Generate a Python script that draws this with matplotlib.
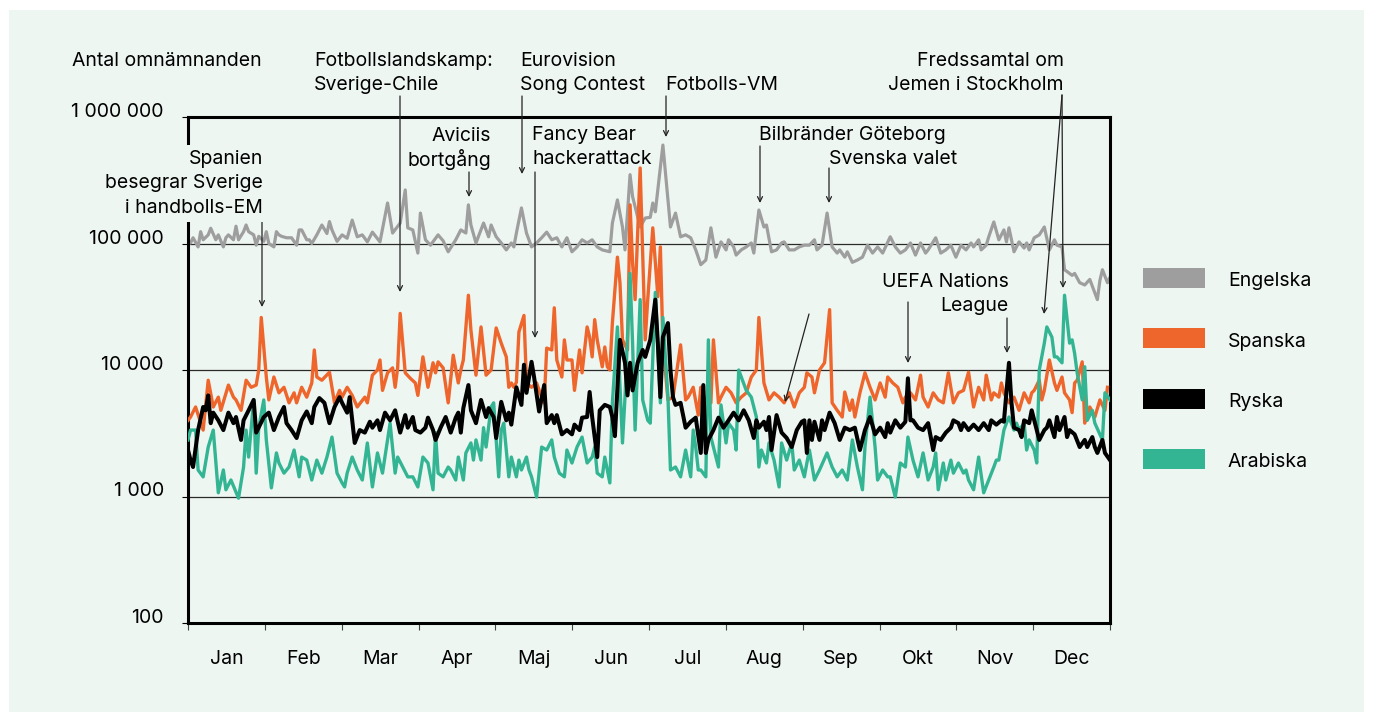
import matplotlib
matplotlib.use("Agg")
import matplotlib.pyplot as plt
from matplotlib.patches import Rectangle
from matplotlib.ticker import NullLocator

plt.rcParams['font.family'] = ['Inter', 'DejaVu Sans']

W, H = 1373, 722
BG = '#eef6f2'
FS = 14.0

months = ['Jan', 'Feb', 'Mar', 'Apr', 'Maj', 'Jun', 'Jul', 'Aug', 'Sep', 'Okt', 'Nov', 'Dec']
series_names = ['Engelska', 'Spanska', 'Ryska', 'Arabiska']
series_colors = ['#9e9e9e', '#ee662b', '#000000', '#33b593']
ytick_values = [100, 1000, 10000, 100000, 1000000]
ytick_labels = ['100', '1 000', '10 000', '100 000', '1 000 000']
y_axis_title = 'Antal omnämnanden'

# (day of year, number of mentions)
engelska = [(0, 100000), (1, 101000), (2, 111000), (4, 94000), (5, 124000), (6, 107000), (8, 117000), (9, 132000),
            (11, 107000), (12, 117000), (14, 94000), (15, 111000), (16, 117000), (18, 107000), (19, 137000), (20, 107000),
            (22, 124000), (23, 140000), (24, 124000), (26, 117000), (27, 97000), (28, 114000), (30, 104000), (31, 124000),
            (32, 100000), (34, 94000), (35, 124000), (36, 117000), (37, 114000), (39, 111000), (41, 111000), (43, 97000),
            (44, 128000), (45, 128000), (47, 107000), (48, 107000), (49, 100000), (51, 117000), (53, 140000), (55, 120000),
            (56, 149000), (57, 128000), (59, 104000), (61, 117000), (63, 110000), (65, 153000), (67, 113000), (69, 117000),
            (71, 103000), (73, 123000), (76, 103000), (79, 209000), (81, 121000), (84, 145000), (86, 265000), (87, 133000),
            (89, 128000), (91, 84000), (92, 174000), (94, 107000), (96, 97000), (99, 117000), (101, 105000), (103, 86000),
            (106, 107000), (108, 128000), (110, 121000), (111, 202000), (112, 140000), (114, 101000), (117, 145000),
            (119, 113000), (120, 140000), (122, 113000), (124, 101000), (126, 89000), (128, 101000), (129, 94000),
            (130, 121000), (132, 191000), (134, 121000), (136, 94000), (138, 101000), (140, 111000), (142, 123000),
            (144, 107000), (146, 111000), (148, 94000), (150, 111000), (152, 86000), (154, 94000), (156, 107000),
            (158, 101000), (160, 107000), (162, 94000), (164, 89000), (167, 86000), (168, 145000), (170, 221000),
            (172, 135000), (173, 89000), (175, 350000), (176, 235000), (179, 135000), (181, 159000), (183, 161000),
            (184, 209000), (185, 178000), (188, 600000), (191, 135000), (193, 174000), (195, 113000), (197, 117000),
            (199, 111000), (201, 89000), (203, 68000), (205, 74000), (207, 133000), (209, 78000), (211, 103000),
            (213, 89000), (214, 107000), (216, 94000), (217, 81000), (219, 89000), (221, 94000), (223, 101000),
            (224, 84000), (226, 184000), (228, 135000), (229, 140000), (231, 86000), (233, 89000), (235, 101000),
            (236, 103000), (238, 89000), (240, 89000), (242, 94000), (244, 97000), (246, 97000), (248, 107000),
            (249, 89000), (251, 97000), (253, 174000), (255, 94000), (257, 84000), (258, 89000), (260, 78000),
            (261, 86000), (263, 71000), (265, 74000), (267, 78000), (269, 97000), (271, 84000), (273, 94000),
            (275, 84000), (278, 113000), (280, 94000), (282, 84000), (284, 89000), (286, 101000), (288, 81000),
            (290, 101000), (292, 84000), (293, 89000), (296, 111000), (298, 84000), (300, 89000), (302, 97000),
            (304, 78000), (306, 97000), (308, 89000), (310, 101000), (311, 94000), (313, 107000), (314, 89000),
            (316, 97000), (317, 113000), (319, 148000), (321, 107000), (323, 128000), (324, 103000), (325, 133000),
            (327, 86000), (329, 103000), (331, 92000), (332, 101000), (333, 89000), (335, 111000), (337, 117000),
            (339, 135000), (341, 89000), (343, 107000), (344, 97000), (346, 94000), (347, 62000), (348, 60000),
            (350, 56000), (351, 58000), (353, 49000), (355, 47000), (357, 52000), (360, 36000), (361, 51000),
            (362, 62000), (364, 49000), (365, 54000)]

spanska = [(0, 4000), (1, 4250), (3, 5100), (6, 3350), (8, 8300), (10, 5100), (12, 6100), (13, 4800), (16, 7600),
           (18, 6100), (19, 5800), (21, 4800), (23, 8300), (25, 7300), (27, 7600), (28, 10000), (29, 26000), (31, 8800),
           (32, 5800), (34, 8800), (36, 6600), (38, 7300), (40, 5500), (42, 6600), (43, 5500), (45, 7300), (47, 6100),
           (49, 7900), (50, 14400), (51, 8800), (53, 8300), (56, 9600), (58, 5500), (60, 6900), (61, 6100), (63, 7300),
           (65, 6300), (67, 5100), (70, 6100), (71, 5500), (73, 9100), (75, 10000), (76, 12000), (77, 6900), (79, 9500),
           (81, 10400), (82, 7300), (83, 10400), (84, 28000), (86, 9500), (88, 8600), (90, 7900), (91, 6300), (93, 12700),
           (95, 7300), (97, 11400), (98, 9500), (99, 11600), (101, 10400), (103, 5500), (105, 13100), (107, 7900),
           (108, 10000), (109, 12000), (111, 39000), (112, 20700), (114, 9100), (116, 21900), (118, 9100), (120, 10000),
           (122, 21500), (124, 16300), (126, 12700), (127, 7300), (128, 7900), (129, 7300), (130, 8000), (131, 20000),
           (133, 27000), (134, 7900), (136, 7300), (138, 7900), (140, 6100), (141, 5500), (142, 14900), (144, 14400),
           (145, 31000), (146, 12000), (148, 8800), (149, 17300), (150, 12000), (152, 12000), (153, 6900), (155, 14400),
           (156, 9500), (158, 21900), (159, 18200), (160, 12700), (161, 25000), (162, 17300), (164, 10600), (165, 15200),
           (166, 10600), (167, 10000), (168, 23500), (170, 78000), (171, 49000), (172, 17300), (174, 14400),
           (175, 202000), (176, 70000), (177, 36000), (179, 395000), (181, 17300), (182, 36000), (184, 133000),
           (186, 38000), (187, 94000), (188, 16300), (190, 5800), (192, 6100), (195, 15800), (197, 5800), (198, 6100),
           (200, 7300), (202, 4400), (203, 7300), (205, 5500), (207, 5500), (208, 17300), (210, 5500), (211, 6100),
           (213, 7300), (215, 6600), (217, 5500), (219, 6100), (221, 6600), (223, 8800), (225, 10000), (226, 26000),
           (228, 7900), (230, 5800), (232, 6600), (234, 6100), (236, 5500), (238, 6600), (240, 5100), (242, 6600),
           (244, 7300), (245, 9500), (247, 8800), (248, 6600), (250, 10000), (252, 11400), (254, 30000), (255, 5500),
           (257, 4800), (259, 4250), (260, 6700), (262, 4800), (263, 5800), (264, 4250), (266, 6600), (268, 9500),
           (270, 7300), (272, 5800), (274, 7900), (276, 6100), (277, 8800), (279, 7900), (281, 7300), (283, 5500),
           (284, 6100), (286, 6600), (288, 5800), (290, 9100), (291, 6100), (293, 5100), (295, 6600), (297, 5800),
           (299, 5500), (301, 9500), (303, 5500), (305, 6600), (307, 6900), (309, 9600), (311, 5100), (313, 7300),
           (315, 5800), (316, 9100), (318, 5800), (319, 6600), (321, 6100), (322, 7900), (323, 6600), (325, 5500),
           (327, 6100), (329, 4800), (331, 6600), (333, 5500), (334, 6600), (335, 6900), (337, 8300), (338, 5800),
           (339, 6900), (341, 12000), (343, 7900), (344, 6900), (346, 8800), (347, 6600), (349, 5800), (350, 4600),
           (351, 7900), (352, 8300), (354, 11600), (355, 3800), (357, 5100), (359, 4250), (361, 5800), (363, 4800),
           (364, 7300)]

ryska = [(0, 2330), (1, 1940), (2, 1710), (4, 3350), (6, 5100), (7, 4800), (8, 6300), (9, 3800), (10, 4600), (12, 4000),
         (14, 3350), (16, 4600), (18, 3800), (19, 4250), (21, 2800), (22, 4000), (24, 4800), (26, 5800), (27, 3200),
         (30, 4250), (32, 4600), (34, 3350), (36, 4250), (38, 5100), (39, 3800), (41, 3350), (43, 2900), (45, 4000),
         (47, 4700), (49, 3800), (50, 5100), (52, 6000), (54, 5500), (56, 3800), (58, 5100), (60, 6100), (61, 5500),
         (63, 4600), (64, 6100), (66, 2650), (68, 3350), (70, 3200), (72, 3900), (73, 3500), (75, 4000), (76, 3350),
         (78, 4600), (80, 4000), (82, 4800), (84, 3200), (86, 4400), (87, 3500), (89, 4250), (90, 3350), (92, 3200),
         (94, 3500), (95, 4200), (97, 3350), (98, 2800), (100, 3500), (102, 4250), (104, 3200), (106, 4200), (107, 4600),
         (108, 3200), (109, 5000), (111, 7600), (112, 4800), (114, 3800), (116, 5800), (118, 4250), (119, 5000),
         (121, 4250), (122, 2900), (124, 5600), (126, 4000), (127, 4600), (128, 3700), (130, 7300), (132, 5300),
         (133, 11000), (134, 6600), (136, 11600), (137, 8800), (139, 4700), (141, 7600), (142, 3800), (144, 4400),
         (145, 3800), (146, 4400), (148, 3100), (150, 3350), (152, 3100), (153, 3700), (155, 3350), (156, 4200),
         (158, 4250), (159, 6700), (160, 4250), (162, 2050), (163, 4800), (165, 5300), (167, 5100), (168, 4250),
         (169, 3000), (171, 17300), (173, 11400), (174, 6300), (175, 11400), (176, 6900), (178, 11400), (180, 14400),
         (181, 12700), (183, 17300), (185, 36000), (186, 16300), (187, 6100), (188, 18200), (190, 23500), (191, 10000),
         (192, 6100), (193, 5300), (195, 5500), (197, 3500), (199, 3900), (201, 4200), (203, 2210), (204, 7600),
         (205, 2210), (206, 2800), (208, 3350), (210, 4200), (212, 3500), (214, 4000), (216, 4600), (218, 4000),
         (220, 4800), (222, 4000), (224, 2900), (225, 4000), (226, 3500), (228, 3900), (229, 3350), (230, 4250),
         (231, 2330), (233, 4400), (235, 3200), (237, 2900), (239, 2460), (241, 3350), (243, 3900), (244, 4000),
         (245, 2210), (246, 4000), (247, 2800), (248, 3900), (250, 2800), (251, 4000), (252, 3350), (254, 4600),
         (256, 3800), (258, 2800), (260, 3500), (262, 3350), (264, 3500), (266, 2330), (268, 3350), (270, 4250),
         (272, 3100), (274, 3500), (276, 2950), (277, 3800), (278, 3200), (280, 4000), (282, 3500), (284, 3900),
         (285, 8600), (286, 4000), (287, 4000), (289, 3500), (291, 3350), (293, 3800), (295, 2330), (296, 2950),
         (298, 2800), (300, 3200), (302, 3500), (303, 4000), (305, 3800), (306, 3350), (307, 3800), (309, 3350),
         (311, 3700), (313, 3350), (315, 3800), (317, 3350), (318, 4000), (320, 3700), (322, 4000), (323, 3900),
         (325, 11400), (326, 5500), (327, 3500), (329, 3350), (330, 2950), (331, 4000), (333, 3800), (334, 4800),
         (335, 4000), (336, 3350), (337, 2800), (339, 3350), (340, 3500), (341, 4000), (343, 2950), (344, 4250),
         (345, 3350), (347, 4250), (348, 2950), (349, 3350), (351, 3100), (353, 2460), (355, 2800), (356, 2460),
         (358, 2950), (359, 2460), (360, 2210), (362, 2800), (363, 2210), (365, 1940)]

arabiska = [(0, 2800), (1, 3350), (3, 3350), (4, 1620), (6, 1430), (8, 2460), (10, 3350), (12, 1070), (14, 1620),
            (15, 1130), (17, 1350), (20, 970), (22, 1710), (23, 3350), (24, 2050), (26, 5800), (27, 1530), (28, 3500),
            (30, 5800), (31, 2800), (33, 1170), (35, 2210), (36, 1840), (38, 1530), (40, 1710), (42, 2330), (44, 1430),
            (45, 2050), (47, 1940), (49, 1350), (51, 1940), (53, 1530), (55, 2050), (57, 2950), (59, 1530), (61, 1280),
            (62, 1190), (63, 1530), (65, 2050), (67, 1620), (69, 1350), (71, 2650), (73, 1190), (75, 2210), (77, 1530),
            (80, 3800), (82, 1530), (83, 2050), (85, 1710), (87, 1430), (89, 1430), (91, 1190), (93, 2050), (95, 1840),
            (97, 1130), (98, 3200), (99, 1530), (101, 1430), (103, 1710), (104, 1620), (106, 1350), (107, 2050),
            (109, 1350), (110, 2210), (112, 2650), (113, 1940), (114, 2800), (116, 1940), (117, 3500), (118, 2460),
            (120, 5100), (121, 5500), (123, 1430), (124, 3350), (125, 3800), (127, 1430), (128, 2050), (130, 1430),
            (131, 1940), (132, 1620), (134, 2050), (135, 1620), (136, 1430), (138, 990), (140, 2460), (142, 2330),
            (144, 2800), (145, 2050), (147, 1530), (149, 1430), (150, 2330), (152, 1840), (154, 2460), (156, 2950),
            (158, 1840), (160, 2050), (161, 2460), (162, 1530), (164, 1430), (165, 2050), (167, 1280), (168, 5500),
            (169, 11000), (170, 21900), (172, 2650), (173, 6100), (175, 58000), (176, 16300), (177, 3350), (179, 36000),
            (180, 5800), (182, 4000), (183, 3800), (185, 41000), (187, 5500), (188, 26000), (190, 6100), (191, 1620),
            (193, 1710), (195, 1430), (197, 2330), (199, 1430), (200, 3350), (201, 2460), (202, 1620), (203, 1620),
            (205, 1430), (206, 17300), (207, 2950), (209, 2050), (210, 1710), (211, 5300), (213, 2650), (214, 3800),
            (216, 3350), (217, 2330), (218, 10000), (221, 6900), (223, 6100), (225, 4250), (226, 1710), (227, 2330),
            (229, 1840), (230, 2650), (232, 1940), (234, 1190), (235, 2650), (237, 1940), (239, 2650), (240, 1620),
            (242, 1940), (244, 1430), (245, 1840), (246, 2330), (248, 1350), (250, 1620), (253, 2210), (255, 1710),
            (257, 1430), (259, 1620), (261, 1350), (263, 2800), (265, 1710), (267, 1130), (268, 2460), (270, 6100),
            (272, 2460), (273, 1350), (275, 1620), (277, 1430), (278, 1430), (280, 990), (282, 1840), (284, 1710),
            (285, 2950), (287, 1940), (289, 1430), (291, 2210), (293, 1350), (295, 1710), (296, 2210), (297, 1130),
            (299, 1840), (300, 1350), (302, 1940), (303, 1530), (305, 1840), (307, 1530), (308, 1620), (309, 1350),
            (311, 1130), (313, 2050), (315, 1070), (317, 1350), (319, 1710), (320, 1940), (321, 1940), (323, 3350),
            (324, 3800), (325, 4250), (327, 3350), (328, 3800), (329, 3350), (331, 3800), (332, 2330), (333, 2800),
            (335, 2330), (336, 1840), (337, 10000), (339, 16300), (340, 21900), (342, 18200), (343, 12700),
            (344, 12700), (346, 11400), (347, 39000), (349, 16300), (350, 17300), (351, 13500), (352, 9500),
            (354, 5800), (355, 10600), (356, 4000), (358, 4800), (359, 3800), (362, 2800), (363, 6600), (365, 5800)]

series_data = [engelska, spanska, ryska, arabiska]
series_lw = [2.3, 2.4, 2.9, 2.4]
series_z = [2, 3, 5, 4]

# annotations: text lines (x, baseline y in px from top-left, ha) and arrows (start -> end, px)
annotations = [
    (['Fotbollslandskamp:', 'Sverige-Chile'], 314, 66, 'left'),
    (['Eurovision', 'Song Contest'], 520, 66, 'left'),
    (['Fotbolls-VM'], 665, 90, 'left'),
    (['Fredssamtal om', 'Jemen i Stockholm'], 1064, 66, 'right'),
    (['Aviciis', 'bortgång'], 491, 141, 'right'),
    (['Fancy Bear', 'hackerattack'], 532, 140, 'left'),
    (['Bilbränder Göteborg'], 759, 140, 'left'),
    (['Svenska valet'], 829, 164, 'left'),
    (['UEFA Nations', 'League'], 1009, 287, 'right'),
]
spain_label = (['Spanien', 'besegrar Sverige', 'i handbolls-EM'], 263, 164, 'right')
arrows = [((262, 217), (262, 307)), ((400, 96), (400, 292)), ((469, 172), (469, 197)),
          ((522, 96), (522, 174)), ((535, 172), (535, 338)), ((666, 96), (666, 137)),
          ((760, 146), (760, 203)), ((829, 168), (829, 203)), ((908, 302), (908, 363)),
          ((1007, 318), (1007, 353)), ((1062, 95), (1063, 288)), ((1062, 95), (1044, 314)),
          ((809, 314), (785, 402))]

LINE_STEP = 24.5


def fp(x, y):
    return (x / W, 1 - y / H)


fig = plt.figure(figsize=(W / 100, H / 100), dpi=100)
fig.patch.set_facecolor('white')
fig.patches.append(Rectangle((9 / W, 10 / H), 1355 / W, 702 / H, transform=fig.transFigure,
                             facecolor=BG, edgecolor='none', zorder=-10))

ax = fig.add_axes([188 / W, 99 / H, 922 / W, 506 / H])
ax.set_facecolor('none')
ax.set_yscale('log')
ax.set_ylim(100, 1000000)
ax.set_xlim(0, 365)

for data, color, lw, z in zip(series_data, series_colors, series_lw, series_z):
    d, v = zip(*data)
    ax.plot(d, v, color=color, lw=lw, zorder=z, solid_joinstyle='round')

# y axis
ax.set_yticks(ytick_values)
ax.set_yticklabels(ytick_labels)
ax.yaxis.set_minor_locator(NullLocator())
ax.tick_params(axis='y', which='major', length=4.3, width=0.8, direction='out', pad=13, labelsize=FS)
plt.setp(ax.get_yticklabels(), va='baseline')
ax.yaxis.grid(True, which='major', color='#2a2a2a', lw=0.9)
ax.set_axisbelow(True)

# x axis: month boundaries as ticks, names centred in months
month_len = 365 / 12
ax.set_xticks([month_len * k for k in range(13)])
ax.set_xticklabels([])
ax.set_xticks([month_len * (k + 0.5) for k in range(12)], minor=True)
ax.set_xticklabels(months, minor=True)
ax.tick_params(axis='x', which='major', length=5, width=0.8, color='#444444', direction='out')
ax.tick_params(axis='x', which='minor', length=0, pad=29.5, labelsize=FS)
plt.setp(ax.get_xticklabels(minor=True), va='baseline')

for s in ax.spines.values():
    s.set_linewidth(2.2)
    s.set_color('black')

fig.text(72 / W, 1 - 66.5 / H, y_axis_title, ha='left', va='baseline', fontsize=FS)

for lines, x, yb, ha in annotations:
    for i, line in enumerate(lines):
        fig.text(*fp(x, yb + i * LINE_STEP), line, ha=ha, va='baseline', fontsize=FS, zorder=6)

lines, x, yb, ha = spain_label
for i, line in enumerate(lines):
    fig.text(*fp(x, yb + i * LINE_STEP), line, ha=ha, va='baseline', fontsize=FS, zorder=6,
             bbox=dict(boxstyle='square,pad=0.25', facecolor=BG, edgecolor='none'))

for (x1, y1), (x2, y2) in arrows:
    ax.annotate('', xy=fp(x2, y2), xytext=fp(x1, y1), xycoords='figure fraction',
                textcoords='figure fraction', annotation_clip=False,
                arrowprops=dict(arrowstyle='->', color='#222222', lw=0.9, shrinkA=0, shrinkB=0,
                                mutation_scale=9))

# legend
for i, (name, color) in enumerate(zip(series_names, series_colors)):
    top = 268 + 60.3 * i
    fig.patches.append(Rectangle(fp(1143, top + 20), 62 / W, 20 / H, transform=fig.transFigure,
                                 facecolor=color, edgecolor='none'))
    fig.text(*fp(1228, top + 18.5), name, ha='left', va='baseline', fontsize=FS)

fig.savefig('out.png', dpi=100, facecolor='white')
